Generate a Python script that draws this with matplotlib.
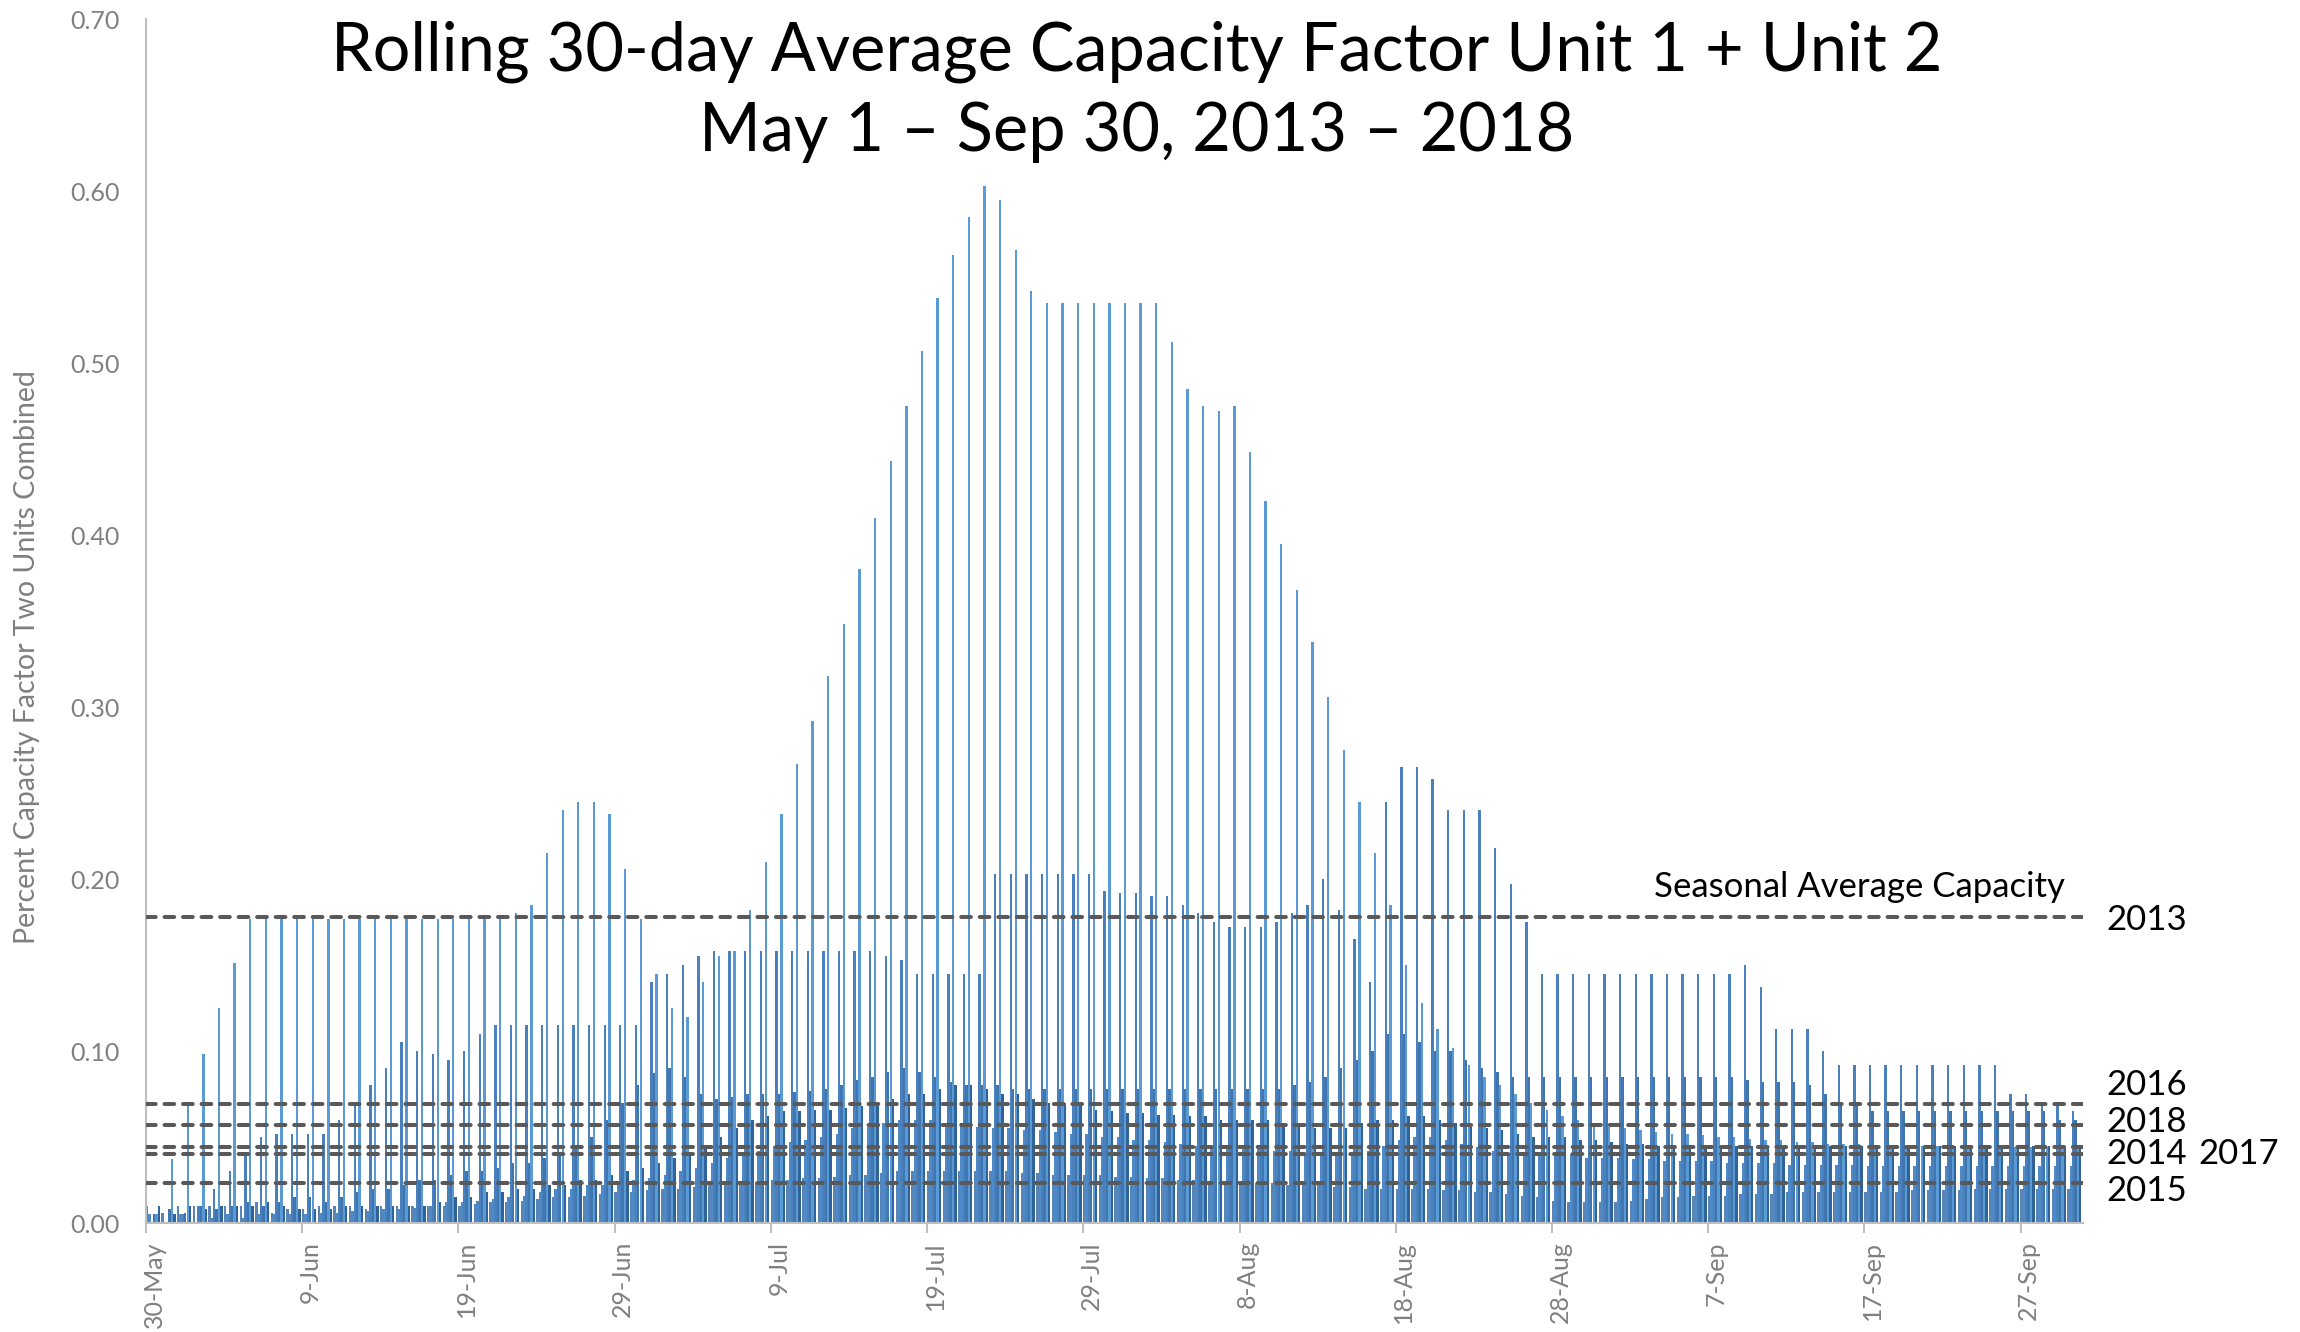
import datetime as dt

import matplotlib
matplotlib.use("Agg")
import matplotlib.pyplot as plt
import numpy as np
from matplotlib.transforms import ScaledTranslation

# first day on the axis and number of days shown (30-May .. 30-Sep)
start_day = dt.date(2018, 5, 30)
n_days = 124

# rolling 30-day capacity factor per year, one value per day
cf_2013 = [0.005, 0.037, 0.068, 0.098, 0.125, 0.151, 0.177, 0.177, 0.177, 0.177,
           0.177, 0.177, 0.177, 0.177, 0.177, 0.177, 0.177, 0.177, 0.177, 0.177,
           0.177, 0.177, 0.177, 0.180, 0.185, 0.215, 0.240, 0.245, 0.245, 0.238,
           0.206, 0.177, 0.145, 0.125, 0.120, 0.140, 0.155, 0.158, 0.182, 0.210,
           0.238, 0.267, 0.292, 0.318, 0.348, 0.380, 0.410, 0.443, 0.475, 0.507,
           0.538, 0.563, 0.585, 0.603, 0.595, 0.566, 0.542, 0.535, 0.535, 0.535,
           0.535, 0.535, 0.535, 0.535, 0.535, 0.512, 0.485, 0.475, 0.472, 0.475,
           0.448, 0.420, 0.395, 0.368, 0.338, 0.306, 0.275, 0.245, 0.215, 0.185,
           0.150, 0.128, 0.113, 0.102, 0.092, 0.085, 0.080, 0.075, 0.070, 0.066,
           0.062, 0.060, 0.058, 0.056, 0.055, 0.054, 0.053, 0.052, 0.052, 0.051,
           0.050, 0.050, 0.049, 0.048, 0.048, 0.047, 0.047, 0.046, 0.046, 0.046,
           0.045, 0.045, 0.045, 0.045, 0.045, 0.045, 0.045, 0.044, 0.044, 0.044,
           0.044, 0.044, 0.043, 0.043]
cf_2016 = [0.000, 0.000, 0.005, 0.010, 0.020, 0.030, 0.040, 0.050, 0.052, 0.052,
           0.052, 0.052, 0.060, 0.070, 0.080, 0.090, 0.105, 0.100, 0.098, 0.095,
           0.100, 0.110, 0.115, 0.115, 0.115, 0.115, 0.115, 0.115, 0.115, 0.115,
           0.115, 0.115, 0.140, 0.145, 0.150, 0.155, 0.158, 0.158, 0.158, 0.158,
           0.158, 0.158, 0.158, 0.158, 0.158, 0.158, 0.158, 0.155, 0.153, 0.145,
           0.145, 0.145, 0.145, 0.145, 0.203, 0.203, 0.203, 0.203, 0.203, 0.203,
           0.203, 0.193, 0.192, 0.192, 0.190, 0.190, 0.185, 0.180, 0.175, 0.172,
           0.172, 0.172, 0.175, 0.180, 0.185, 0.200, 0.182, 0.165, 0.140, 0.245,
           0.265, 0.265, 0.258, 0.240, 0.240, 0.240, 0.218, 0.197, 0.175, 0.145,
           0.145, 0.145, 0.145, 0.145, 0.145, 0.145, 0.145, 0.145, 0.145, 0.145,
           0.145, 0.145, 0.150, 0.137, 0.113, 0.113, 0.113, 0.100, 0.092, 0.092,
           0.092, 0.092, 0.092, 0.092, 0.092, 0.092, 0.092, 0.092, 0.092, 0.075,
           0.075, 0.070, 0.070, 0.065]
cf_2018 = [0.005, 0.008, 0.006, 0.010, 0.008, 0.010, 0.012, 0.010, 0.012, 0.015,
           0.015, 0.012, 0.015, 0.018, 0.020, 0.020, 0.022, 0.025, 0.025, 0.028,
           0.030, 0.030, 0.032, 0.035, 0.035, 0.038, 0.040, 0.045, 0.050, 0.060,
           0.070, 0.080, 0.087, 0.090, 0.085, 0.075, 0.072, 0.073, 0.075, 0.075,
           0.075, 0.076, 0.077, 0.078, 0.080, 0.083, 0.085, 0.088, 0.090, 0.088,
           0.085, 0.082, 0.080, 0.080, 0.080, 0.078, 0.078, 0.078, 0.078, 0.078,
           0.078, 0.078, 0.078, 0.078, 0.078, 0.078, 0.078, 0.078, 0.078, 0.078,
           0.078, 0.078, 0.078, 0.080, 0.082, 0.085, 0.090, 0.095, 0.100, 0.110,
           0.110, 0.105, 0.100, 0.100, 0.095, 0.090, 0.088, 0.085, 0.085, 0.085,
           0.085, 0.085, 0.085, 0.085, 0.085, 0.085, 0.085, 0.085, 0.085, 0.085,
           0.085, 0.085, 0.083, 0.082, 0.082, 0.082, 0.080, 0.075, 0.070, 0.068,
           0.065, 0.065, 0.065, 0.065, 0.065, 0.065, 0.065, 0.065, 0.065, 0.065,
           0.065, 0.065, 0.060, 0.060]
cf_2014 = [0.010, 0.005, 0.010, 0.008, 0.010, 0.010, 0.010, 0.012, 0.010, 0.008,
           0.008, 0.008, 0.010, 0.010, 0.010, 0.010, 0.010, 0.010, 0.012, 0.015,
           0.015, 0.018, 0.018, 0.020, 0.020, 0.022, 0.022, 0.025, 0.025, 0.028,
           0.030, 0.032, 0.035, 0.038, 0.040, 0.045, 0.050, 0.055, 0.060, 0.062,
           0.065, 0.065, 0.066, 0.066, 0.067, 0.068, 0.070, 0.072, 0.075, 0.075,
           0.078, 0.080, 0.080, 0.078, 0.075, 0.075, 0.072, 0.070, 0.070, 0.068,
           0.066, 0.065, 0.064, 0.064, 0.063, 0.063, 0.062, 0.062, 0.060, 0.060,
           0.060, 0.060, 0.058, 0.056, 0.055, 0.055, 0.055, 0.058, 0.060, 0.060,
           0.062, 0.062, 0.060, 0.058, 0.056, 0.055, 0.054, 0.052, 0.050, 0.050,
           0.050, 0.048, 0.048, 0.047, 0.046, 0.046, 0.045, 0.045, 0.045, 0.045,
           0.045, 0.045, 0.045, 0.045, 0.045, 0.045, 0.045, 0.045, 0.045, 0.045,
           0.045, 0.045, 0.045, 0.045, 0.045, 0.045, 0.045, 0.045, 0.045, 0.045,
           0.045, 0.045, 0.045, 0.045]
cf_2017 = [0.005, 0.000, 0.005, 0.000, 0.003, 0.005, 0.003, 0.005, 0.005, 0.005,
           0.005, 0.006, 0.006, 0.007, 0.007, 0.008, 0.008, 0.009, 0.010, 0.012,
           0.012, 0.013, 0.014, 0.015, 0.016, 0.018, 0.020, 0.020, 0.022, 0.022,
           0.024, 0.025, 0.026, 0.028, 0.030, 0.032, 0.035, 0.038, 0.040, 0.042,
           0.045, 0.047, 0.048, 0.050, 0.052, 0.055, 0.056, 0.058, 0.060, 0.060,
           0.060, 0.058, 0.058, 0.056, 0.055, 0.055, 0.054, 0.054, 0.053, 0.052,
           0.052, 0.050, 0.050, 0.048, 0.048, 0.047, 0.046, 0.045, 0.045, 0.044,
           0.044, 0.043, 0.042, 0.042, 0.041, 0.040, 0.040, 0.040, 0.042, 0.045,
           0.048, 0.050, 0.050, 0.048, 0.046, 0.044, 0.042, 0.040, 0.040, 0.040,
           0.040, 0.040, 0.038, 0.038, 0.038, 0.037, 0.037, 0.036, 0.036, 0.036,
           0.036, 0.035, 0.035, 0.035, 0.035, 0.034, 0.034, 0.034, 0.034, 0.034,
           0.033, 0.033, 0.033, 0.033, 0.033, 0.033, 0.033, 0.033, 0.033, 0.033,
           0.033, 0.033, 0.033, 0.033]
cf_2015 = [0.010, 0.006, 0.010, 0.010, 0.010, 0.010, 0.010, 0.012, 0.006, 0.008,
           0.008, 0.010, 0.010, 0.010, 0.008, 0.010, 0.010, 0.010, 0.010, 0.010,
           0.010, 0.011, 0.012, 0.012, 0.013, 0.014, 0.015, 0.015, 0.016, 0.017,
           0.018, 0.018, 0.019, 0.020, 0.020, 0.021, 0.022, 0.022, 0.023, 0.024,
           0.025, 0.025, 0.026, 0.026, 0.027, 0.028, 0.028, 0.029, 0.030, 0.030,
           0.030, 0.030, 0.030, 0.030, 0.030, 0.030, 0.029, 0.029, 0.028, 0.028,
           0.028, 0.028, 0.027, 0.027, 0.026, 0.026, 0.025, 0.025, 0.024, 0.024,
           0.024, 0.023, 0.023, 0.022, 0.022, 0.022, 0.021, 0.021, 0.020, 0.020,
           0.020, 0.020, 0.020, 0.019, 0.019, 0.018, 0.018, 0.017, 0.016, 0.015,
           0.013, 0.012, 0.012, 0.012, 0.012, 0.013, 0.014, 0.015, 0.015, 0.016,
           0.016, 0.016, 0.017, 0.017, 0.017, 0.018, 0.018, 0.018, 0.018, 0.018,
           0.018, 0.018, 0.018, 0.019, 0.019, 0.019, 0.019, 0.020, 0.020, 0.020,
           0.020, 0.020, 0.020, 0.020]

# seasonal averages, drawn as dashed lines
avg_years = ['2013', '2016', '2018', '2014', '2017', '2015']
avg_values = [0.178, 0.069, 0.057, 0.044, 0.040, 0.023]


def draw_chart():
    """Daily bars for every year plus the seasonal average lines."""
    plt.rcParams['font.family'] = ['Lato', 'DejaVu Sans']

    fig = plt.figure(figsize=(23, 13.32), dpi=100)
    ax = fig.add_axes([0.0635, 0.0818, 0.8422, 0.9039])

    days = np.arange(n_days)
    # (values, offset inside the day, colour)
    series = [
        (cf_2015, 0.06, '#5a84b4'),
        (cf_2017, 0.21, '#4f8ac8'),
        (cf_2016, 0.36, '#4a80bc'),
        (cf_2018, 0.51, '#3f76b0'),
        (cf_2013, 0.67, '#5b9bd5'),
        (cf_2014, 0.82, '#2f6399'),
    ]
    for values, offset, colour in series:
        ax.bar(days + offset, values, width=0.15, color=colour,
               linewidth=0, zorder=2)

    for value in avg_values:
        ax.axhline(value, color='#595959', linewidth=2.9,
                   dashes=(2.4, 2.2), dash_capstyle='round', zorder=3)

    ax.set_xlim(0, n_days)
    ax.set_ylim(0, 0.70)

    ax.set_yticks(np.arange(0, 0.71, 0.10))
    ax.set_yticklabels([f'{v:.2f}' for v in np.arange(0, 0.71, 0.10)])
    ticks = np.arange(0, n_days, 10)
    labels = [(start_day + dt.timedelta(days=int(t))).strftime('%-d-%b')
              for t in ticks]
    ax.set_xticks(ticks)
    ax.set_xticklabels(labels, rotation=90)

    ax.tick_params(axis='y', length=0, pad=19, labelsize=18,
                   labelcolor='#808080')
    ax.tick_params(axis='x', length=7, width=1.5, color='#bfbfbf', pad=6,
                   labelsize=18, labelcolor='#808080')
    shift = ScaledTranslation(0.08, 0, fig.dpi_scale_trans)
    for lab in ax.get_xticklabels():
        lab.set_transform(lab.get_transform() + shift)

    for side in ['top', 'right']:
        ax.spines[side].set_visible(False)
    for side in ['left', 'bottom']:
        ax.spines[side].set_color('#bfbfbf')
        ax.spines[side].set_linewidth(1.5)

    fig.text(0.0117, 0.507, 'Percent Capacity Factor Two Units Combined',
             rotation=90, ha='center', va='center', fontsize=20.5,
             color='#7f7f7f')

    fig.text(0.494, 0.961, 'Rolling 30-day Average Capacity Factor Unit 1 + Unit 2',
             ha='center', va='center', fontsize=48, color='black')
    fig.text(0.494, 0.901, 'May 1 \u2013 Sep 30, 2013 \u2013 2018',
             ha='center', va='center', fontsize=48, color='black')

    fig.text(0.8083, 0.334, 'Seasonal Average Capacity', ha='center',
             va='center', fontsize=25)
    label_y = {'2013': 920, '2016': 1085, '2018': 1122, '2014': 1154,
               '2015': 1191}
    for year, y in label_y.items():
        fig.text(2106 / 2300, 1 - y / 1332, year, ha='left', va='center',
                 fontsize=25)
    fig.text(2198 / 2300, 1 - 1154 / 1332, '2017', ha='left', va='center',
             fontsize=25)

    fig.savefig('out.png', dpi=100)


def main():
    draw_chart()


if __name__ == "__main__":
    main()
